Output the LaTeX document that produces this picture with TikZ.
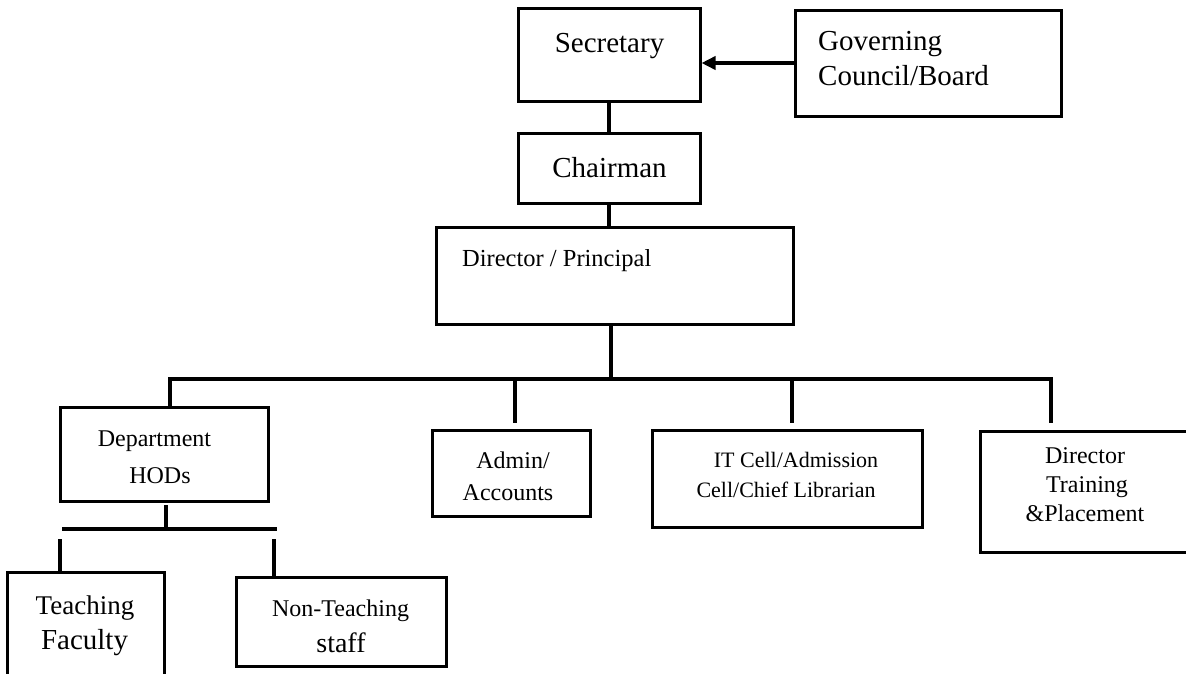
\documentclass[tikz,border=0pt]{standalone}
\usepackage{fontspec}
\setmainfont{Liberation Serif}
\usetikzlibrary{arrows.meta,fit}
\newcommand\fsz[1]{\fontsize{#1}{#1}\selectfont}
\tikzset{
  box/.style={draw, line width=3pt, inner sep=0pt},
  txt/.style={inner sep=0pt, anchor=base},
  conn/.style={line width=3.5pt},
  arr/.style={line width=3.5pt, -{Triangle[length=14pt,width=13pt]}}
}
\begin{document}
\begin{tikzpicture}[x=1pt,y=-1pt]
\useasboundingbox (0,0) rectangle (1186,673);
% boxes
\node[box, fit={(518,8) (700,101)}] (sec) {};
\node[box, fit={(795,10) (1061,116)}] (gov) {};
\node[box, fit={(518,133) (700,203)}] (chair) {};
\node[box, fit={(436,227) (793,324)}] (dir) {};
\node[box, fit={(60,407) (268,501)}] (dept) {};
\node[box, fit={(432,430) (590,516)}] (admin) {};
\node[box, fit={(652,430) (922,527)}] (itc) {};
\node[box, fit={(980,431) (1200,552)}] (dtp) {};
\node[box, fit={(7,572) (164,700)}] (teach) {};
\node[box, fit={(236,577) (446,666)}] (nonteach) {};
% texts
\node[txt, font=\fsz{29}] (tsec) at (609.5,52) {Secretary};
\node[txt, font=\fsz{29}, anchor=base west] (tgov1) at (818,50) {Governing};
\node[txt, font=\fsz{29}, anchor=base west] (tgov2) at (818,85) {Council/Board};
\node[txt, font=\fsz{29}] (tchair) at (609.5,177) {Chairman};
\node[txt, font=\fsz{24.5}, anchor=base west] (tdir) at (462,266) {Director / Principal};
\node[txt, font=\fsz{24}] (tdept1) at (154.5,446) {Department};
\node[txt, font=\fsz{24}] (tdept2) at (160,483) {HODs};
\node[txt, font=\fsz{24}] (tadm1) at (513,468) {Admin/};
\node[txt, font=\fsz{24}] (tadm2) at (508,500) {Accounts};
\node[txt, font=\fsz{22}] (tit1) at (796,467) {IT Cell/Admission};
\node[txt, font=\fsz{22}] (tit2) at (786,497) {Cell/Chief Librarian};
\node[txt, font=\fsz{24}] (tdtp1) at (1085,463) {Director};
\node[txt, font=\fsz{24}] (tdtp2) at (1087,492) {Training};
\node[txt, font=\fsz{24}] (tdtp3) at (1085,521) {\&Placement};
\node[txt, font=\fsz{27}] (tteach1) at (85,614) {Teaching};
\node[txt, font=\fsz{29}] (tteach2) at (84.5,649) {Faculty};
\node[txt, font=\fsz{24}] (tnon1) at (340.5,616) {Non-Teaching};
\node[txt, font=\fsz{28}] (tnon2) at (341,652) {staff};
% connector points
\coordinate (busL) at (170,379);
\coordinate (busR) at (1051,379);
\coordinate (busM) at (611,379);
\coordinate (adTop) at (515,423);
\coordinate (itTop) at (792,423);
\coordinate (dtTop) at (1051,423);
\coordinate (hodTop) at (166,505);
\coordinate (sbM) at (166,529);
\coordinate (sbL) at (62,529);
\coordinate (sbR) at (277,529);
\coordinate (tdTop) at (60,539);
\coordinate (ndTop) at (274,539);
% connectors
\draw[arr] (gov.west) -- (gov.west -| sec.east);
\draw[conn] (sec.south) -- (chair.north);
\draw[conn] (chair.south) -- (chair.south |- dir.north);
\draw[conn] (busM |- dir.south) -- (busM);
\draw[conn] (busL |- dept.north) -- (busL) -- (busR) -- (dtTop);
\draw[conn] (adTop |- busM) -- (adTop);
\draw[conn] (itTop |- busM) -- (itTop);
\draw[conn] (hodTop) -- (sbM);
\draw[conn] (sbL) -- (sbR);
\draw[conn] (tdTop) -- (tdTop |- teach.north);
\draw[conn] (ndTop) -- (ndTop |- nonteach.north);
\end{tikzpicture}
\end{document}
